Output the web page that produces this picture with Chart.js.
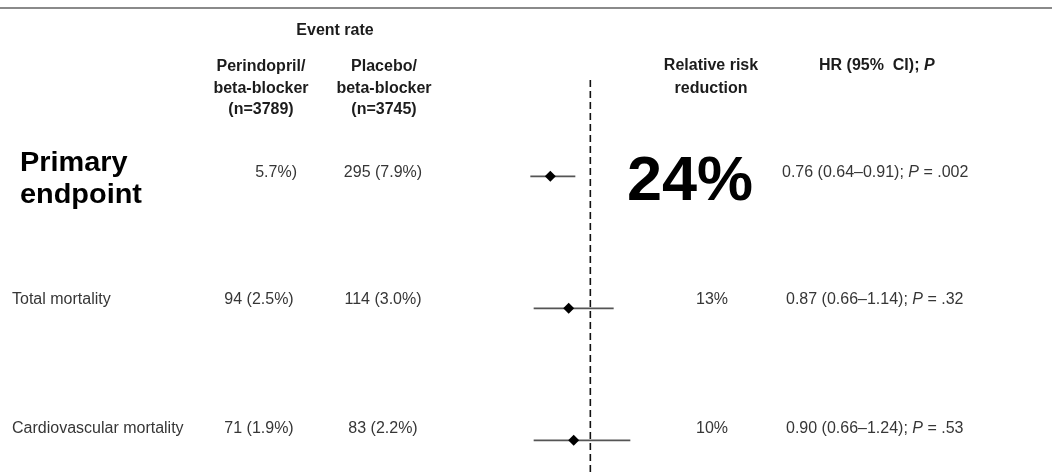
<!DOCTYPE html>
<html>
<head>
<meta charset="utf-8">
<title>Perindopril / beta-blocker outcomes</title>
<script src="https://cdn.jsdelivr.net/npm/chart.js@4/dist/chart.umd.min.js"></script>
<style>
  html, body { margin: 0; padding: 0; background: #fff; }
  #wrap { width: 1052px; height: 472px; position: relative; }
</style>
</head>
<body>
<div id="wrap"><canvas id="forest"></canvas></div>
<script>
// Outcomes and per-arm event counts
const outcomes = ['Primary endpoint', 'Total mortality', 'Cardiovascular mortality'];
const perindoprilEvents = ['5.7%)', '94 (2.5%)', '71 (1.9%)'];
const placeboEvents = ['295 (7.9%)', '114 (3.0%)', '83 (2.2%)'];
const riskReduction = ['24%', '13%', '10%'];

// Hazard ratios with 95% confidence limits
const hazardRatio = [0.76, 0.87, 0.90];
const ciLower = [0.64, 0.66, 0.66];
const ciUpper = [0.91, 1.14, 1.24];
const pValues = ['.002', '.32', '.53'];

// Column headings
const eventRateTitle = 'Event rate';
const perindoprilHeader = ['Perindopril/', 'beta-blocker', '(n=3789)'];
const placeboHeader = ['Placebo/', 'beta-blocker', '(n=3745)'];
const rrrHeader = ['Relative risk', 'reduction'];

const X_MIN = 0.5, X_MAX = 1.4;
const Y_MIN = -0.73, Y_MAX = 2.24;

const FONT = '"Liberation Sans", Arial, Helvetica, sans-serif';
const fmt = v => v.toFixed(2);

const rows = outcomes.map((_, i) => i);

const datasets = [
  {
    type: 'line',
    data: [{ x: 1, y: Y_MIN }, { x: 1, y: Y_MAX }],
    borderColor: '#111',
    borderWidth: 1.6,
    borderDash: [7, 4],
    pointRadius: 0,
    order: 3
  },
  ...rows.map(i => ({
    type: 'line',
    data: [{ x: ciLower[i], y: i }, { x: ciUpper[i], y: i }],
    borderColor: '#555',
    borderWidth: 1.7,
    pointRadius: 0,
    order: 2
  })),
  {
    type: 'scatter',
    data: rows.map(i => ({ x: hazardRatio[i], y: i })),
    pointStyle: 'rectRot',
    pointRadius: 5.5,
    backgroundColor: '#000',
    borderColor: '#000',
    borderWidth: 0,
    order: 1
  }
];

function drawRuns(ctx, x, y, runs) {
  let cx = x;
  for (const r of runs) {
    ctx.font = r.font;
    ctx.fillText(r.t, cx, y);
    cx += ctx.measureText(r.t).width;
  }
}

const tablePlugin = {
  id: 'forestTable',
  afterDraw(chart) {
    const ctx = chart.ctx;
    ctx.save();

    // top rule
    ctx.fillStyle = '#8a8a8a';
    ctx.fillRect(0, 7, 1052, 2);

    // headings
    ctx.fillStyle = '#1c1c1c';
    ctx.textBaseline = 'alphabetic';
    ctx.font = 'bold 16px ' + FONT;
    ctx.textAlign = 'center';
    ctx.fillText(eventRateTitle, 335, 35);
    const hdrBase = [71, 92.5, 113.5];
    perindoprilHeader.forEach((t, k) => ctx.fillText(t, 261, hdrBase[k]));
    placeboHeader.forEach((t, k) => ctx.fillText(t, 384, hdrBase[k]));
    const rrrBase = [70, 93];
    rrrHeader.forEach((t, k) => ctx.fillText(t, 711, rrrBase[k]));
    ctx.textAlign = 'left';
    drawRuns(ctx, 819, 70, [
      { t: 'HR (95%  CI); ', font: 'bold 16px ' + FONT },
      { t: 'P', font: 'italic bold 16px ' + FONT }
    ]);

    // body rows
    const base = [177, 304, 433];
    rows.forEach(i => {
      const y = base[i];
      ctx.fillStyle = '#363636';
      ctx.font = '16px ' + FONT;
      if (i === 0) {
        ctx.textAlign = 'right';
        ctx.fillText(perindoprilEvents[i], 297, y);
      } else {
        ctx.textAlign = 'center';
        ctx.fillText(perindoprilEvents[i], 259, y);
      }
      ctx.textAlign = 'center';
      ctx.fillText(placeboEvents[i], 383, y);

      if (i === 0) {
        ctx.fillStyle = '#000';
        ctx.textAlign = 'left';
        ctx.font = 'bold 27px ' + FONT;
        const parts = outcomes[i].split(' ');
        ctx.save();
        ctx.translate(20, 0);
        ctx.scale(1.07, 1);
        ctx.fillText(parts[0], 0, 171);
        ctx.fillText(parts[1], 0, 203);
        ctx.restore();
        ctx.textAlign = 'center';
        ctx.font = 'bold 63px ' + FONT;
        ctx.fillText(riskReduction[i], 690, 200);
      } else {
        ctx.textAlign = 'left';
        ctx.fillText(outcomes[i], 12, y);
        ctx.textAlign = 'center';
        ctx.fillText(riskReduction[i], 712, y);
      }

      ctx.fillStyle = '#363636';
      ctx.textAlign = 'left';
      const reg = '16px ' + FONT, ita = 'italic 16px ' + FONT;
      drawRuns(ctx, i === 0 ? 782 : 786, y, [
        { t: `${fmt(hazardRatio[i])} (${fmt(ciLower[i])}\u2013${fmt(ciUpper[i])}); `, font: reg },
        { t: 'P', font: ita },
        { t: ` = ${pValues[i]}`, font: reg }
      ]);
    });

    ctx.restore();
  }
};

new Chart(document.getElementById('forest'), {
  data: { datasets },
  options: {
    responsive: true,
    maintainAspectRatio: false,
    animation: false,
    layout: { autoPadding: false, padding: { left: 507, right: 395, top: 80, bottom: 0 } },
    plugins: { legend: { display: false }, tooltip: { enabled: false } },
    scales: {
      x: { type: 'linear', min: X_MIN, max: X_MAX, display: false },
      y: { type: 'linear', min: Y_MIN, max: Y_MAX, reverse: true, display: false }
    }
  },
  plugins: [tablePlugin]
});
</script>
</body>
</html>
